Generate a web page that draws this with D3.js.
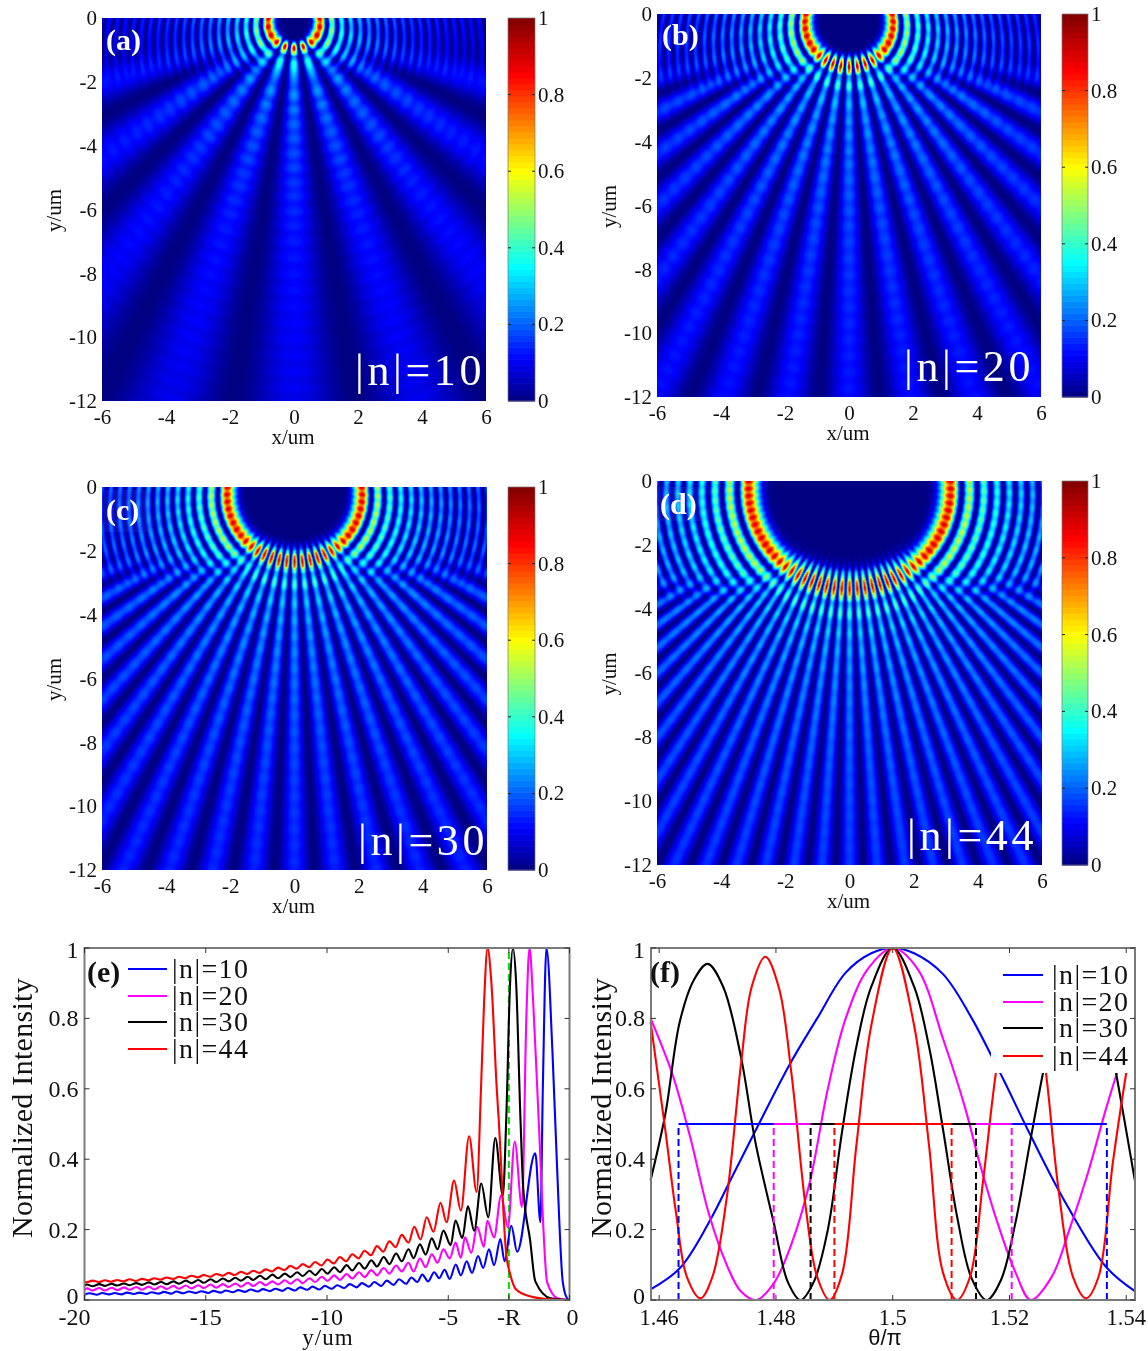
<!DOCTYPE html>
<html><head><meta charset="utf-8">
<script src="https://cdn.jsdelivr.net/npm/d3@7"></script>
<style>html,body{margin:0;background:#fff}svg{display:block;filter:blur(.45px)}text{font-family:"Liberation Serif",serif;fill:#111}</style>
</head><body><svg id="c" width="1148" height="1351"></svg>
<script>
// ---- data ----
const orders = [10, 20, 30, 44];
const panelLetters = ["(a)", "(b)", "(c)", "(d)"];
const seriesColors = ["#0000ff", "#ff00ff", "#000000", "#ff0000"];
const heatXTicks = [-6, -4, -2, 0, 2, 4, 6];
const heatYTicks = [0, -2, -4, -6, -8, -10, -12];
const barTicks = [0, 0.2, 0.4, 0.6, 0.8, 1];
const jetStops = [0, 0.11, 0.35, 0.6, 0.85, 1];
const jetColors = ["#000080", "#0000ff", "#00ffff", "#ffff00", "#ff0000", "#800000"];
// measured ring radius at the top edge, fringe order matching the measured fringe spacing, and height where fringes turn into rays
const ringTop = [0.8, 1.35, 2.1, 3.15];
const fringeOrder = [8, 14, 22, 30];
const fringeBreak = [1.4, 1.9, 2.6, 3.3];

const blueE = [[-20,.015],[-19.78,.019],[-19.49,.015],[-19.27,.02],[-18.98,.016],[-18.76,.02],[-18.47,.016],[-18.25,.021],[-17.96,.017],[-17.74,.021],[-17.45,.017],[-17.23,.022],[-16.94,.018],[-16.72,.023],[-16.43,.018],[-16.21,.024],[-15.92,.019],[-15.7,.024],[-15.41,.02],[-15.19,.025],[-14.9,.02],[-14.68,.026],[-14.39,.021],[-14.17,.027],[-13.88,.022],[-13.66,.028],[-13.37,.023],[-13.15,.03],[-12.86,.024],[-12.64,.031],[-12.35,.025],[-12.13,.032],[-11.84,.026],[-11.62,.034],[-11.33,.027],[-11.11,.036],[-10.82,.029],[-10.6,.038],[-10.31,.03],[-10.09,.04],[-9.8,.032],[-9.58,.042],[-9.29,.034],[-9.07,.045],[-8.78,.036],[-8.56,.048],[-8.27,.038],[-8.05,.051],[-7.76,.04],[-7.54,.055],[-7.25,.043],[-7.03,.059],[-6.74,.046],[-6.52,.064],[-6.28,.051],[-6.07,.072],[-5.83,.053],[-5.58,.079],[-5.37,.062],[-5.15,.086],[-4.94,.06],[-4.69,.101],[-4.48,.07],[-4.24,.11],[-4.02,.077],[-3.77,.125],[-3.56,.091],[-3.32,.144],[-3.11,.099],[-2.85,.173],[-2.68,.11],[-2.4,.211],[-2.16,.137],[-1.41,.417],[-1.2,.221],[-1.1,.6],[-.95,1],[-.7,.7],[-.52,.39],[-.28,.053],[-.1,.005],[0,0]];
const magentaE = [[-20,.029],[-19.9,.033],[-19.67,.027],[-19.39,.034],[-19.16,.027],[-18.88,.035],[-18.65,.028],[-18.37,.036],[-18.14,.029],[-17.86,.037],[-17.63,.029],[-17.35,.038],[-17.12,.03],[-16.84,.039],[-16.61,.031],[-16.33,.04],[-16.1,.032],[-15.82,.041],[-15.59,.033],[-15.31,.042],[-15.08,.034],[-14.8,.044],[-14.57,.035],[-14.29,.045],[-14.06,.037],[-13.78,.047],[-13.55,.038],[-13.27,.049],[-13.04,.04],[-12.76,.051],[-12.53,.042],[-12.25,.053],[-12.02,.044],[-11.74,.056],[-11.51,.046],[-11.23,.059],[-11,.048],[-10.72,.062],[-10.49,.051],[-10.21,.066],[-9.98,.054],[-9.7,.07],[-9.47,.057],[-9.19,.074],[-8.96,.061],[-8.68,.079],[-8.45,.065],[-8.17,.085],[-7.94,.07],[-7.66,.091],[-7.43,.075],[-7.15,.098],[-6.92,.081],[-6.64,.106],[-6.43,.081],[-6.17,.118],[-5.93,.093],[-5.68,.13],[-5.44,.106],[-5.2,.144],[-4.94,.118],[-4.7,.163],[-4.48,.12],[-4.31,.178],[-4.05,.134],[-3.81,.208],[-3.53,.151],[-3.39,.225],[-3.11,.178],[-2.82,.297],[-2.54,.206],[-2.26,.45],[-1.96,.264],[-1.78,.8],[-1.65,1],[-1.5,.85],[-1.27,.51],[-.92,.05],[-.49,.005],[0,0]];
const blackE = [[-20,.041],[-19.9,.044],[-19.67,.039],[-19.39,.045],[-19.16,.04],[-18.88,.046],[-18.65,.041],[-18.37,.047],[-18.14,.042],[-17.86,.048],[-17.63,.043],[-17.35,.05],[-17.12,.044],[-16.84,.051],[-16.61,.045],[-16.33,.053],[-16.1,.046],[-15.82,.055],[-15.59,.048],[-15.31,.057],[-15.08,.049],[-14.8,.059],[-14.57,.051],[-14.29,.061],[-14.06,.053],[-13.78,.063],[-13.55,.055],[-13.27,.066],[-13.04,.057],[-12.76,.069],[-12.53,.059],[-12.25,.072],[-12.02,.062],[-11.74,.075],[-11.51,.065],[-11.23,.079],[-11,.068],[-10.72,.083],[-10.49,.071],[-10.21,.088],[-9.98,.075],[-9.7,.093],[-9.47,.079],[-9.19,.099],[-8.96,.084],[-8.68,.105],[-8.45,.089],[-8.17,.113],[-7.94,.095],[-7.66,.122],[-7.43,.102],[-7.15,.132],[-6.92,.11],[-6.64,.144],[-6.43,.119],[-6.17,.158],[-5.93,.129],[-5.68,.175],[-5.44,.144],[-5.2,.197],[-4.9,.156],[-4.7,.226],[-4.42,.176],[-4.19,.266],[-3.93,.197],[-3.64,.331],[-3.35,.235],[-3.06,.46],[-2.75,.297],[-2.61,.51],[-2.45,.9],[-2.33,1],[-2.2,.9],[-2.02,.51],[-1.91,.32],[-1.62,.168],[-1.41,.053],[-.78,.005],[0,0]];
const redE = [[-20,.052],[-19.92,.05],[-19.67,.055],[-19.41,.051],[-19.16,.056],[-18.9,.052],[-18.65,.057],[-18.39,.053],[-18.14,.059],[-17.88,.054],[-17.63,.06],[-17.37,.056],[-17.12,.062],[-16.86,.058],[-16.61,.064],[-16.35,.06],[-16.1,.066],[-15.84,.062],[-15.59,.069],[-15.33,.064],[-15.08,.071],[-14.82,.066],[-14.57,.074],[-14.31,.069],[-14.06,.077],[-13.8,.071],[-13.55,.08],[-13.29,.074],[-13.04,.083],[-12.78,.077],[-12.53,.087],[-12.27,.081],[-12.02,.092],[-11.76,.085],[-11.51,.097],[-11.25,.089],[-11,.102],[-10.74,.093],[-10.49,.108],[-10.23,.098],[-9.98,.115],[-9.72,.104],[-9.47,.122],[-9.21,.11],[-8.96,.13],[-8.7,.118],[-8.45,.14],[-8.19,.127],[-7.94,.153],[-7.68,.137],[-7.43,.167],[-7.17,.15],[-6.92,.185],[-6.64,.163],[-6.4,.208],[-6.14,.172],[-5.89,.235],[-5.61,.194],[-5.32,.276],[-5.07,.221],[-4.76,.339],[-4.48,.254],[-4.14,.465],[-3.83,.307],[-3.65,.6],[-3.52,.85],[-3.38,1],[-3.22,.9],[-3,.6],[-2.92,.513],[-2.61,.13],[-2.44,.072],[-2.19,.029],[-1.6,.01],[-.8,.002],[0,0]];

const blueF = [[1.4593,.03],[1.4642,.09],[1.4691,.22],[1.4733,.36],[1.4769,.48],[1.4827,.67],[1.4873,.8],[1.4921,.93],[1.4964,.985],[1.5,1],[1.5036,.985],[1.5085,.925],[1.5133,.8],[1.5167,.69],[1.5188,.62],[1.5231,.47],[1.5286,.29],[1.5358,.095],[1.5407,.025]];
const magentaF = [[1.4593,.8],[1.463,.64],[1.466,.46],[1.4691,.245],[1.4721,.1],[1.4745,.024],[1.4771,0],[1.48,.047],[1.483,.16],[1.486,.33],[1.4891,.6],[1.4921,.8],[1.4958,.94],[1.5,1],[1.5042,.94],[1.5085,.74],[1.5121,.55],[1.5146,.39],[1.5176,.22],[1.5206,.08],[1.5232,0],[1.5267,.065],[1.5297,.2],[1.5328,.36],[1.5358,.54],[1.5376,.64],[1.5407,.8]];
const blackF = [[1.4593,.34],[1.4618,.53],[1.4642,.79],[1.4666,.91],[1.4689,.955],[1.4715,.89],[1.4745,.69],[1.4769,.45],[1.48,.22],[1.4824,.05],[1.4845,0],[1.4867,.05],[1.4891,.2],[1.4915,.48],[1.4939,.72],[1.4964,.89],[1.5,1],[1.5036,.89],[1.5061,.72],[1.5085,.48],[1.5109,.23],[1.5133,.06],[1.5158,0],[1.5182,.057],[1.5206,.217],[1.523,.44],[1.5252,.64],[1.5273,.81],[1.531,.95],[1.5352,.86],[1.5376,.64],[1.5407,.34]];
const redF = [[1.4593,.79],[1.4618,.48],[1.4636,.245],[1.4654,.066],[1.4677,.005],[1.4697,.066],[1.4721,.29],[1.4745,.67],[1.4763,.89],[1.4786,.975],[1.4809,.885],[1.483,.64],[1.4854,.26],[1.4873,.066],[1.4894,0],[1.4915,.075],[1.4939,.44],[1.4964,.78],[1.5,1],[1.5036,.78],[1.5061,.44],[1.5085,.075],[1.5108,0],[1.513,.066],[1.5152,.34],[1.5173,.64],[1.5194,.86],[1.5218,.975],[1.524,.86],[1.5258,.64],[1.5279,.31],[1.5303,.066],[1.5325,.005],[1.5346,.066],[1.537,.39],[1.5392,.64],[1.5407,.79]];
const halfLeft = [1.464, 1.48, 1.4862, 1.4902];
const halfRight = [1.536, 1.52, 1.514, 1.5099];
const eXTicks = [-20, -15, -10, -5, -2.5, 0];
const eXLabels = ["-20", "-15", "-10", "-5", "-R", "0"];
const fXTicks = [1.46, 1.48, 1.5, 1.52, 1.54];
const unitTicks = [0, 0.2, 0.4, 0.6, 0.8, 1];
// the (f) angles above were read against a provisional tick spacing; this is the ratio to the true spacing
const fCalibration = 1.019;
const calTheta = t => 1.5 + (t - 1.5) * fCalibration;

// ---- layout ----
const svg = d3.select("#c");
const heatBoxes = [
  {x0:102,x1:486,y0:18,y1:401,bx0:508,bx1:535,lx:355,ly:385,lbx:106,lby:50},
  {x0:657,x1:1041,y0:14,y1:397,bx0:1062,bx1:1088,lx:904,ly:381,lbx:662,lby:45},
  {x0:102,x1:487,y0:487,y1:870,bx0:508,bx1:535,lx:358,ly:855,lbx:106,lby:520,patch:[104,490,46,42]},
  {x0:657,x1:1042,y0:481,y1:865,bx0:1062,bx1:1088,lx:907,ly:850,lbx:660,lby:514,patch:[658,487,45,34]}
];
const jet = d3.scaleLinear().domain(jetStops).range(jetColors).clamp(true);
const eSeries = [blueE, magentaE, blackE, redE];
const fSeries = [blueF, magentaF, blackF, redF].map(s => s.map(d => [calTheta(d[0]), d[1]]));

function besselTable(n, zMax, dz) {
  const steps = Math.ceil((zMax + n) * 1.5) + 60, t = [];
  for (let j = 0; j * dz <= zMax + dz; j++) {
    const z = j * dz; let s = 0;
    for (let i = 0; i < steps; i++) {
      const a = Math.PI * (i + .5) / steps;
      s += Math.cos(n * a - z * Math.sin(a));
    }
    t.push(s / steps);
  }
  return t;
}
function smoothProfile(pairs) {
  const us = pairs.map(d => d[0]), vs = pairs.map(d => d[1]);
  return r => {
    const u = -r;
    if (u <= us[0]) return vs[0];
    if (u >= 0) return 0;
    const i = d3.bisectLeft(us, u);
    const t = d3.easeSinInOut((u - us[i-1]) / (us[i] - us[i-1]));
    return vs[i-1] + (vs[i] - vs[i-1]) * t;
  };
}
const sstep = (a, b, v) => { const t = Math.max(0, Math.min(1, (v - a) / (b - a))); return t * t * (3 - 2 * t); };
const tone = I => 0.92 * Math.max(Math.pow(I, 0.95), 0.6 * Math.pow(I, 0.5));

function heatImage(p) {
  const n = orders[p], Rs = ringTop[p], yb = fringeBreak[p], nf = fringeOrder[p];
  const pairs = eSeries[p], prof = smoothProfile(pairs);
  const Rb = -pairs.find(d => d[1] === 1)[0];
  const k = (nf + 0.8086 * Math.cbrt(nf)) / Rs;
  const dz = 0.1, table = besselTable(nf, k * 16, dz);
  const jmax = d3.max(table.map(Math.abs));
  const N = 384;
  const gx = d3.scaleLinear().domain([0, N - 1]).range([-6, 6]);
  const gy = d3.scaleLinear().domain([0, N - 1]).range([0, -12]);
  const cv = document.createElement("canvas"); cv.width = cv.height = N;
  const ctx = cv.getContext("2d"), img = ctx.createImageData(N, N);
  for (let j = 0; j < N; j++) for (let i = 0; i < N; i++) {
    const x = gx(i), y = gy(j), r = Math.hypot(x, y);
    const al = Math.atan2(Math.abs(x), Math.abs(y));
    const ca = Math.cos(n * al), cs = Math.cos(al);
    const ringAt = Rs + (Rb - Rs) * cs;
    const rr = r * Rb / ringAt;
    // rays: the measured axial profile of panel (e) swept round the angle
    const ray = tone(prof(rr)) * Math.pow(Math.abs(ca), 1.8) * sstep(0.65 * Rb, 0.95 * Rb, rr);
    // fringes near the top edge
    const z = k * r * Rs / ringAt / dz, zi = Math.floor(z);
    const jv = table[zi] + (table[zi+1] - table[zi]) * (z - zi);
    const arc = 0.9 * Math.pow(Math.abs(jv) / jmax, 1.7) * (0.85 + 0.15 * ca * ca);
    const w = (1 - sstep(yb - 0.7, yb + 0.8, Math.abs(y))) * sstep(0.3, 0.9, al);
    const c = d3.rgb(jet((1 - w) * ray + w * arc));
    const o = 4 * (j * N + i);
    img.data[o] = c.r; img.data[o+1] = c.g; img.data[o+2] = c.b; img.data[o+3] = 255;
  }
  ctx.putImageData(img, 0, 0);
  return cv.toDataURL();
}

heatBoxes.forEach((b, p) => {
  const g = svg.append("g");
  const x = d3.scaleLinear().domain([-6, 6]).range([b.x0, b.x1]);
  const y = d3.scaleLinear().domain([0, -12]).range([b.y0, b.y1]);
  g.append("image").attr("x", b.x0).attr("y", b.y0).attr("width", b.x1 - b.x0).attr("height", b.y1 - b.y0)
    .attr("preserveAspectRatio", "none").attr("href", heatImage(p));
  if (b.patch) g.append("rect").attr("x", b.patch[0]).attr("y", b.patch[1]).attr("width", b.patch[2]).attr("height", b.patch[3]).attr("fill", "#6a8cff").attr("opacity", .12);
  const ax = g.append("g").attr("transform", `translate(0,${b.y1})`)
    .call(d3.axisBottom(x).tickValues(heatXTicks).tickFormat(String).tickSize(0).tickPadding(8));
  const ay = g.append("g").attr("transform", `translate(${b.x0},0)`)
    .call(d3.axisLeft(y).tickValues(heatYTicks).tickFormat(String).tickSize(0).tickPadding(5));
  [ax, ay].forEach(a => { a.select(".domain").remove(); a.selectAll("text").attr("font-size", 21).style("font-family", '"Liberation Serif",serif'); });
  g.append("text").attr("x", (b.x0 + b.x1) / 2 - 1).attr("y", b.y1 + 43).attr("text-anchor", "middle").attr("font-size", 21).text("x/um");
  g.append("text").attr("transform", `translate(${b.x0 - 41},${(b.y0 + b.y1) / 2 + 1}) rotate(-90)`).attr("text-anchor", "middle").attr("font-size", 21).text("y/um");
  // colour bar
  const cb = d3.scaleLinear().domain([0, 1]).range([b.y1, b.y0]);
  const bins = d3.range(64);
  g.selectAll("rect.bin").data(bins).join("rect").attr("class", "bin")
    .attr("x", b.bx0).attr("width", b.bx1 - b.bx0)
    .attr("y", d => cb((d + 1) / 64)).attr("height", (b.y1 - b.y0) / 64 + .6)
    .attr("fill", d => jet((d + .5) / 64));
  g.append("rect").attr("x", b.bx0).attr("y", b.y0).attr("width", b.bx1 - b.bx0).attr("height", b.y1 - b.y0)
    .attr("fill", "none").attr("stroke", "#777").attr("stroke-width", .7);
  g.selectAll("line.bt").data(barTicks.slice(1, -1)).join("line").attr("class", "bt")
    .attr("x1", b.bx0).attr("x2", b.bx0 + 3).attr("y1", cb).attr("y2", cb).attr("stroke", "#222");
  g.selectAll("line.bt2").data(barTicks.slice(1, -1)).join("line").attr("class", "bt2")
    .attr("x1", b.bx1 - 3).attr("x2", b.bx1).attr("y1", cb).attr("y2", cb).attr("stroke", "#222");
  g.selectAll("text.bl").data(barTicks).join("text").attr("class", "bl")
    .attr("x", b.bx1 + 3).attr("y", d => cb(d) + 7).attr("font-size", 21).text(String);
  g.append("text").attr("x", b.lx).attr("y", b.ly).attr("font-size", 44).attr("letter-spacing", 3.6).style("fill", "#fff").text("|n|=" + orders[p]);
  g.append("text").attr("x", b.lbx).attr("y", b.lby).attr("font-size", 30).attr("font-weight", "bold").style("fill", "#fff").text(panelLetters[p]);
});

function linePlot(o) {
  const g = svg.append("g");
  const x = d3.scaleLinear().domain(o.xd).range([o.x0, o.x1]);
  const y = d3.scaleLinear().domain([0, 1]).range([o.y1, o.y0]);
  const line = d3.line().x(d => x(d[0])).y(d => y(d[1])).curve(o.curve);
  o.under && o.under(g, x, y);
  o.series.forEach((s, i) => g.append("path").attr("d", line(s)).attr("fill", "none")
    .attr("stroke", seriesColors[i]).attr("stroke-width", 2.1));
  o.over && o.over(g, x, y);
  g.append("rect").attr("x", o.x0).attr("y", o.y0).attr("width", o.x1 - o.x0).attr("height", o.y1 - o.y0)
    .attr("fill", "none").attr("stroke", "#7a7a7a").attr("stroke-width", 2);
  const tk = "#333";
  g.selectAll("line.xb").data(o.xt).join("line").attr("class", "xb").attr("x1", x).attr("x2", x).attr("y1", o.y1).attr("y2", o.y1 - 5).attr("stroke", tk);
  g.selectAll("line.xt").data(o.xt).join("line").attr("class", "xt").attr("x1", x).attr("x2", x).attr("y1", o.y0).attr("y2", o.y0 + 5).attr("stroke", tk);
  g.selectAll("line.yl").data(unitTicks).join("line").attr("class", "yl").attr("y1", y).attr("y2", y).attr("x1", o.x0).attr("x2", o.x0 + 5).attr("stroke", tk);
  g.selectAll("line.yr").data(unitTicks).join("line").attr("class", "yr").attr("y1", y).attr("y2", y).attr("x1", o.x1).attr("x2", o.x1 - 5).attr("stroke", tk);
  g.selectAll("text.xl").data(o.xt).join("text").attr("class", "xl").attr("x", (d, i) => x(d) + o.xdx[i]).attr("y", o.y1 + 25)
    .attr("text-anchor", "middle").attr("font-size", o.xfs).text((d, i) => o.xl ? o.xl[i] : String(d));
  g.selectAll("text.yt").data(unitTicks).join("text").attr("class", "yt").attr("x", o.x0 - 6)
    .attr("y", d => y(d) + (d === 1 ? 10 : d === 0 ? 4 : 8)).attr("text-anchor", "end").attr("font-size", 24).text(String);
  g.append("text").attr("transform", `translate(${o.titleX},1108) rotate(-90)`)
    .attr("text-anchor", "middle").attr("font-size", 30).attr("letter-spacing", .3).text("Normalized Intensity");
  orders.forEach((n, i) => {
    const ly = o.legY[i];
    g.append("line").attr("x1", o.legX[0]).attr("x2", o.legX[1]).attr("y1", ly).attr("y2", ly).attr("stroke", seriesColors[i]).attr("stroke-width", 2);
    g.append("text").attr("x", o.legX[2]).attr("y", ly + 9).attr("font-size", 28).attr("letter-spacing", 1.4).text("|n|=" + n);
  });
  g.append("text").attr("x", o.tagX).attr("y", 982).attr("font-size", 30).attr("font-weight", "bold").text(o.tag);
  return g;
}

linePlot({
  x0:84.5, x1:569.5, y0:948, y1:1300, xd:[-20,0], series:eSeries, xt:eXTicks, xl:eXLabels, xdx:[-10,0,0,0,0,3], xfs:24, titleX:32,
  curve:d3.curveMonotoneX,
  legX:[128,167,172], legY:[969,996,1022,1049], tag:"(e)", tagX:87,
  under:(g,x,y)=>g.append("line").attr("x1",x(-2.5)).attr("x2",x(-2.5)).attr("y1",y(0)).attr("y2",y(1))
    .attr("stroke","#00e000").attr("stroke-width",2).attr("stroke-dasharray","7 4")
});
linePlot({
  x0:651, x1:1135, y0:948, y1:1300, xd:[1.4586,1.5415], series:fSeries, xt:fXTicks, xdx:[0,0,0,0,0], xfs:22.5, titleX:611,
  curve:d3.curveCatmullRom,
  legX:[1003,1043,1052], legY:[975,1002,1028,1056], tag:"(f)", tagX:650,
  over:(g,x,y)=>{
    orders.forEach((n,i)=>{
      const a = calTheta(halfLeft[i]), b = calTheta(halfRight[i]);
      g.append("line").attr("x1",x(a)).attr("x2",x(b)).attr("y1",y(.5)).attr("y2",y(.5)).attr("stroke",seriesColors[i]).attr("stroke-width",2);
      [a,b].forEach(v=>g.append("line").attr("x1",x(v)).attr("x2",x(v)).attr("y1",y(0)).attr("y2",y(.5))
        .attr("stroke",seriesColors[i]).attr("stroke-width",2).attr("stroke-dasharray","7 4"));
    });
    g.append("rect").attr("x",991).attr("y",951).attr("width",143).attr("height",122).attr("fill","#fff");
  }
});
// axis titles of the two line plots
svg.append("text").attr("x",328).attr("y",1345).attr("text-anchor","middle").attr("font-size",23).attr("letter-spacing",1).text("y/um");
svg.append("text").attr("x",885).attr("y",1345).attr("text-anchor","middle").attr("font-size",22).style("font-family",'"Liberation Sans",sans-serif').text("θ/π");
</script></body></html>
